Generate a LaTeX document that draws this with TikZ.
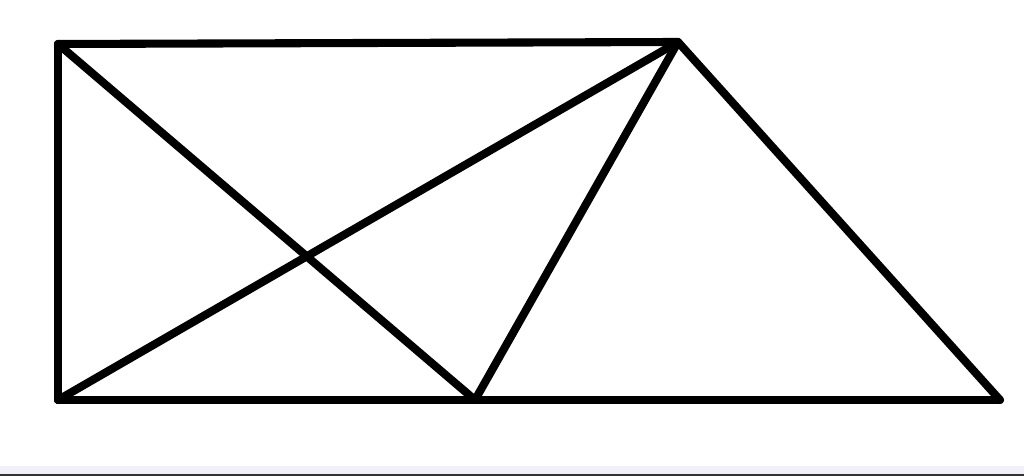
\documentclass[tikz,border=0pt]{standalone}
\usepackage{tikz}
\usetikzlibrary{positioning}

\begin{document}
\begin{tikzpicture}[thick, line width=4.6pt, line cap=round, line join=round, x=0.02cm, y=0.02cm, seg/.style={draw=black}]

    % Frame
	\useasboundingbox (0,0) rectangle (1024,476);
	\fill[cyan!25!blue!5] (0,2) rectangle (1024,10);
	\draw[line width=1.2pt, black!80] (0,1) -- (1024,1);

    % The corners
	\coordinate (TL) at (58,432);
	\coordinate (TR) at (678,434);
	\coordinate (BL) at (58,76);
	\coordinate (BM) at (475,76);
	\coordinate (BR) at (1000,76);

	% Outline
	\path[seg]
	(BL) edge (TL)
	(TL) edge (TR)
	(TR) edge (BR)
	(BL) edge (BR);

	% Inner lines
	\path[seg]
	(TL) edge (BM)
	(BL) edge (TR)
	(TR) edge (BM);

\end{tikzpicture}
\end{document}
